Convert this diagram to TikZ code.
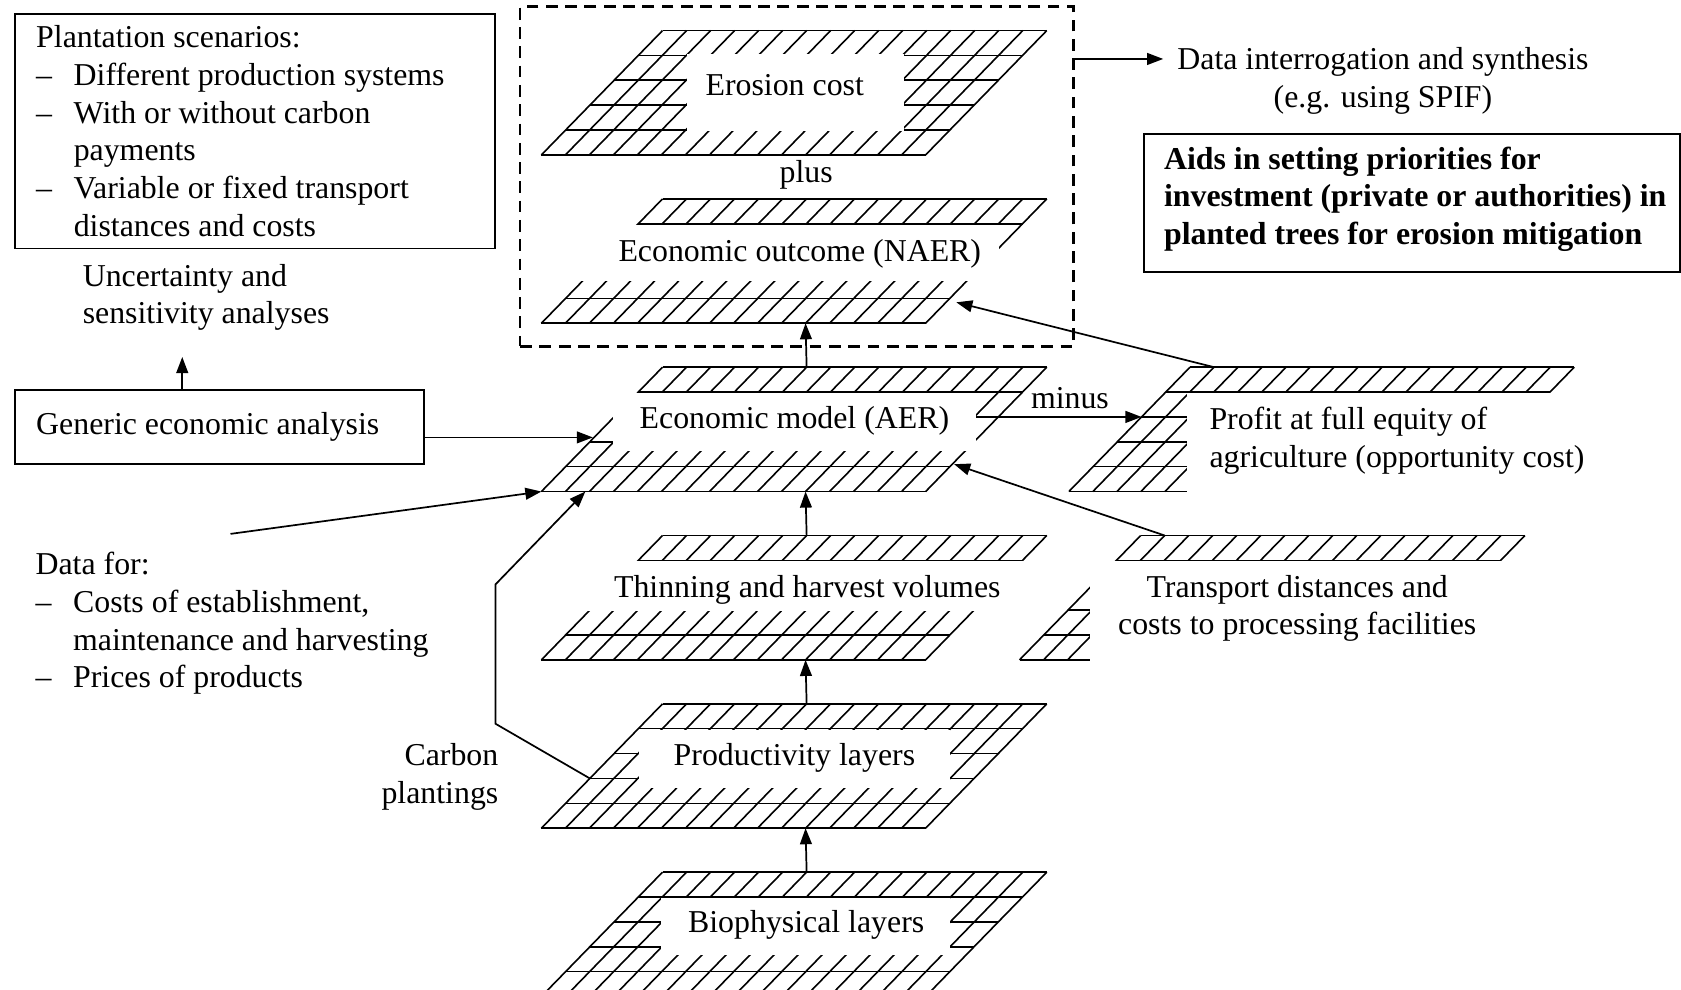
\documentclass[tikz,border=0pt]{standalone}
\usepackage{fontspec}
\setmainfont{Liberation Serif}
\usetikzlibrary{arrows.meta}

\newcommand{\itemdash}{\makebox[35pt][l]{–}}
\newcommand{\itemgap}{\hspace*{35pt}}
\newcommand{\aidsgap}{\hspace*{7pt}}
% hatched map layer: x and y of top-left corner, columns, name
\newcommand{\hatchlayer}[4]{%
  \foreach \r in {0,...,5}
    \draw[gridline] (#1-\r*22.6, #2+\r*23.2) -- ++(#3*22.4, 0);
  \foreach \c in {0,...,#3}
    \draw[gridline] (#1+\c*22.4, #2) -- ++(-113, 116);
  \coordinate (#4-tl) at (#1, #2);
  \coordinate (#4-t1) at (#1+22.4, #2);
  \coordinate (#4-bl) at (#1-113, #2+116);
  \coordinate (#4-top) at (#1+6*22.4, #2);
  \coordinate (#4-bot) at (#1-113+11*22.4, #2+116);
}

\begin{document}
\begin{tikzpicture}[x=1pt,y=-1pt,
  every node/.style={font=\fontsize{29.7}{35.2}\selectfont, inner sep=0pt},
  gridline/.style={line width=1.5pt},
  box/.style={draw, line width=1.6pt},
  arr/.style={line width=1.6pt, -{Triangle[length=15pt,width=11pt]}},
  mask/.style={fill=white}]

\useasboundingbox (0,0) rectangle (1568,923);
\clip (0,0) rectangle (1568,923);

% the map layers, with the parts under the labels blanked out
\hatchlayer{618}{28.5}{16}{erosion}
\fill[mask] (640.6,50.6) rectangle (843,122.4);
\hatchlayer{618}{185.5}{16}{outcome}
\fill[mask] (540,209.5) rectangle (932,262.4);
\hatchlayer{618}{342.5}{16}{aer}
\fill[mask] (571.5,366.5) rectangle (910.4,420.7);
\hatchlayer{618}{499.5}{16}{thin}
\fill[mask] (540,523.5) rectangle (955,570);
\hatchlayer{618}{656.5}{16}{prod}
\fill[mask] (595.6,680.5) rectangle (886.2,734.6);
\hatchlayer{618}{813.5}{16}{bio}
\fill[mask] (616.5,837.5) rectangle (886.2,890.9);
\hatchlayer{1110}{342.5}{16}{profit}
\fill[mask] (1107,366.5) rectangle (1568,465);
\hatchlayer{1064}{499.5}{16}{transport}
\fill[mask] (1017,523.5) rectangle (1568,625);

% dashed frame round the outcome layers
\node[draw, line width=2.4pt, dash pattern=on 11pt off 7pt, anchor=north west,
  minimum width=516pt, minimum height=317pt] (frame) at (484,5) {};

% labels
\node (erosiontxt) at (732,79) {Erosion cost};
\node (plus) at (752,163) {plus};
\node (outcometxt) at (746,237) {Economic outcome (NAER)};
\node (aertxt) at (741,393) {Economic model (AER)};
\node (thintxt) at (753,550) {Thinning and harvest volumes};
\node (prodtxt) at (741,707) {Productivity layers};
\node (biotxt) at (752,863) {Biophysical layers};
\node (minus) at (998,371) {minus};
\node[align=left, anchor=west] (profittxt) at (1128,411)
  {Profit at full equity of\\agriculture (opportunity cost)};
\node[align=center] (transporttxt) at (1210,567.5)
  {Transport distances and\\costs to processing facilities};
\node[align=center] (interro) at (1290,75.5)
  {Data interrogation and synthesis\\(e.g. using SPIF)};
\node[box, anchor=north west, text width=476pt, inner xsep=12pt, inner ysep=12pt,
  align=flush left, font=\fontsize{29.7}{35.2}\selectfont\bfseries] (aids) at (1066,124)
  {\aidsgap Aids in setting priorities for\\\aidsgap investment (private or authorities) in\\
   \aidsgap planted trees for erosion mitigation\rule[-13.5pt]{0pt}{0pt}};

\node[box, anchor=north west, text width=408pt, inner xsep=20pt,
  minimum height=219pt, align=flush left] (scen) at (13,12)
  {Plantation scenarios:\\\itemdash Different production systems\\\itemdash With or without carbon\\
   \itemgap payments\\\itemdash Variable or fixed transport\\\itemgap distances and costs};
\node[align=left, anchor=west] (uncert) at (77,277.5)
  {Uncertainty and\\sensitivity analyses};
\node[box, anchor=north west, text width=342pt, inner xsep=20pt,
  minimum height=69pt, align=flush left] (generic) at (13,363) {Generic economic analysis};
\node[align=left, anchor=north west] (datafor) at (33,515)
  {Data for:\\\itemdash Costs of establishment,\\\itemgap maintenance and harvesting\\\itemdash Prices of products};
\node[align=right, anchor=east] (carbon) at (465,725) {Carbon\\plantings};

% connectors
\coordinate (uncert-tip) at (170,333);
\coordinate (aer-in) at (553,408);
\coordinate (data-tail) at (215,498);
\coordinate (aer-cb) at (546,458.5);
\coordinate (prod-cl) at (550.2,726.1);
\coordinate (aer-east) at (910.4,388.9);
\coordinate (profit-west) at (1064.8,388.9);
\coordinate (outcome-in) at (892,282);
\coordinate (aer-right) at (890,433);
\coordinate (interro-tip) at (1085,55);

\draw[arr] (aer-top) -- (outcome-bot);
\draw[arr] (thin-top) -- (aer-bot);
\draw[arr] (prod-top) -- (thin-bot);
\draw[arr] (bio-top) -- (prod-bot);
\draw[arr] (generic.north west -| uncert-tip) -- (uncert-tip);
\draw[arr] (generic.east |- aer-in) -- (aer-in);
\draw[arr] (data-tail) -- (aer-bl);
\draw[arr] (prod-cl) -- ++(-88,-51) -- ++(0,-130) -- (aer-cb);
\draw[arr] (aer-east) -- (profit-west);
\draw[arr] (profit-t1) -- (outcome-in);
\draw[arr] (transport-t1) -- (aer-right);
\draw[arr] (frame.east |- interro-tip) -- (interro-tip);
\end{tikzpicture}
\end{document}
